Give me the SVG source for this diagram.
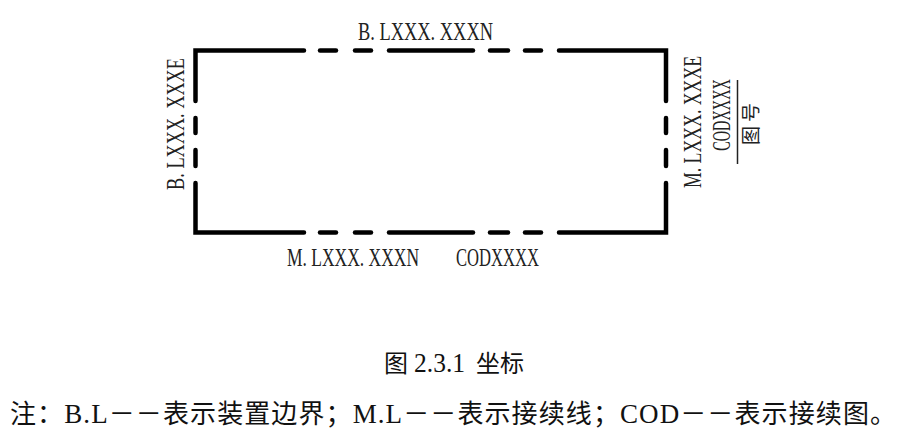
<svg xmlns="http://www.w3.org/2000/svg" width="904" height="434" viewBox="0 0 904 434">
<style>
.fr{fill:none;stroke:#000;stroke-width:4.5;stroke-linecap:round;stroke-linejoin:miter}
.lb{font-family:"Liberation Serif","Noto Sans CJK SC",serif;font-size:25px;fill:#222;text-anchor:middle}
.cj{font-family:"Noto Sans CJK SC",sans-serif;fill:#222}
.cap{font-family:"Liberation Serif","Noto Sans CJK SC",serif;fill:#111}
.lat{font-family:"Liberation Serif",serif}
</style>
<rect width="904" height="434" fill="#fff"/>
<g id="frame">
<polyline class="fr" points="195.5,101 195.5,50.5 304,50.5"/>
<line class="fr" x1="320" y1="50.5" x2="336" y2="50.5"/>
<line class="fr" x1="355" y1="50.5" x2="371" y2="50.5"/>
<line class="fr" x1="389" y1="50.5" x2="473" y2="50.5"/>
<line class="fr" x1="490" y1="50.5" x2="508" y2="50.5"/>
<line class="fr" x1="525" y1="50.5" x2="541" y2="50.5"/>
<polyline class="fr" points="559,50.5 666,50.5 666,101"/>
<line class="fr" x1="195.5" y1="118" x2="195.5" y2="133"/>
<line class="fr" x1="195.5" y1="150" x2="195.5" y2="166"/>
<line class="fr" x1="666" y1="118" x2="666" y2="133"/>
<line class="fr" x1="666" y1="150" x2="666" y2="166"/>
<polyline class="fr" points="195.5,183 195.5,232.5 304,232.5"/>
<line class="fr" x1="320" y1="232.5" x2="336" y2="232.5"/>
<line class="fr" x1="355" y1="232.5" x2="371" y2="232.5"/>
<line class="fr" x1="389" y1="232.5" x2="473" y2="232.5"/>
<line class="fr" x1="490" y1="232.5" x2="508" y2="232.5"/>
<line class="fr" x1="525" y1="232.5" x2="541" y2="232.5"/>
<polyline class="fr" points="559,232.5 666,232.5 666,183"/>
</g>
<g id="labels">
<text class="lb" transform="translate(425.5,40) scale(0.737,1)">B. LXXX. XXXN</text>
<text class="lb" transform="translate(353,266) scale(0.70,1)">M. LXXX. XXXN</text>
<text class="lb" transform="translate(497.5,266) scale(0.664,1)">CODXXXX</text>
<text class="lb" transform="translate(184,124) rotate(-90) scale(0.731,1)">B. LXXX. XXXE</text>
<text class="lb" transform="translate(701,122) rotate(-90) scale(0.71,1)">M. LXXX. XXXE</text>
<text class="lb" font-size="23" transform="translate(730,115) rotate(-90) scale(0.574,1)">CODXXXX</text>
<line x1="737.5" y1="80" x2="737.5" y2="164" stroke="#222" stroke-width="1.5"/>
<text class="cj" font-size="19" transform="translate(758,124) rotate(-90)" x="-21" y="0" textLength="42">图号</text>
</g>
<g id="caption">
<text class="cap" font-size="24" y="372"><tspan x="384">图</tspan><tspan class="lat" x="414" font-size="27" textLength="51" lengthAdjust="spacingAndGlyphs">2.3.1</tspan><tspan x="476">坐标</tspan></text>
<text class="cap" font-size="26" x="10" y="423" textLength="886" lengthAdjust="spacing">注：<tspan class="lat" font-size="27">B.L</tspan>－－表示装置边界；<tspan class="lat" font-size="27">M.L</tspan>－－表示接续线；<tspan class="lat" font-size="27">COD</tspan>－－表示接续图。</text>
</g>
</svg>
